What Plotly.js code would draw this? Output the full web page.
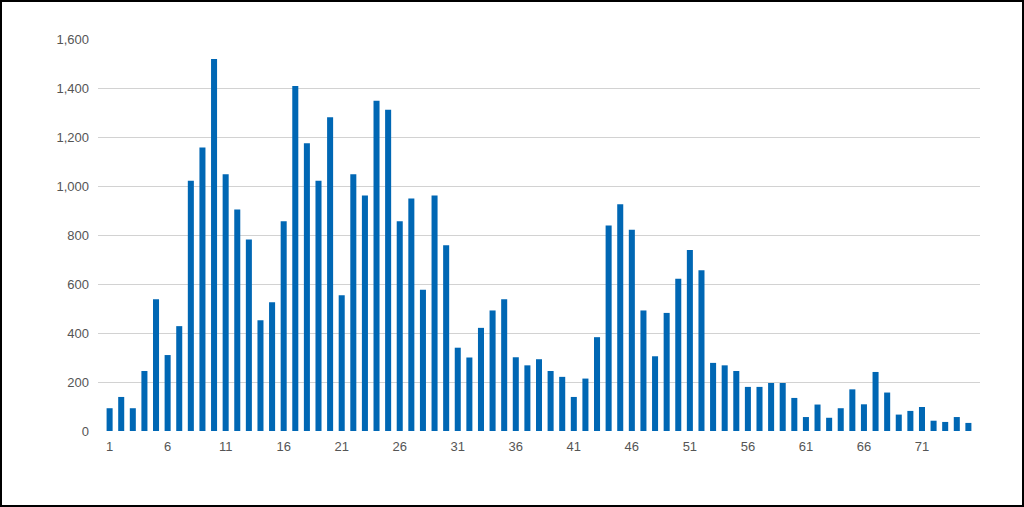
<!DOCTYPE html>
<html>
<head>
<meta charset="utf-8">
<script src="https://cdn.plot.ly/plotly-3.0.1.min.js"></script>
<style>
html,body{margin:0;padding:0;background:#fff;}
#wrap{position:relative;width:1024px;height:507px;}
#chart{width:1024px;height:507px;}
#frame{position:absolute;left:0;top:0;width:1024px;height:507px;box-sizing:border-box;border:2px solid #000;pointer-events:none;}
</style>
</head>
<body>
<div id="wrap"><div id="chart"></div><div id="frame"></div></div>
<script>
const categories = Array.from({length: 75}, (_, i) => i + 1);
const values = [
  93, 139, 93, 245, 538, 310, 428, 1021, 1157, 1518,
  1048, 904, 782, 452, 526, 856, 1408, 1174, 1021, 1281,
  554, 1048, 961, 1348, 1311, 856, 949, 577, 961, 758,
  340, 300, 421, 492, 538, 301, 268, 293, 245, 221,
  139, 214, 383, 839, 926, 821, 492, 305, 482, 621,
  739, 656, 278, 268, 245, 180, 180, 196, 196, 135,
  57, 108, 54, 93, 170, 109, 241, 157, 67, 82,
  98, 42, 37, 57, 33
];
const xTickVals = [1, 6, 11, 16, 21, 26, 31, 36, 41, 46, 51, 56, 61, 66, 71];
const yTickVals = [0, 200, 400, 600, 800, 1000, 1200, 1400, 1600];
const yTickText = ['0', '200', '400', '600', '800', '1,000', '1,200', '1,400', '1,600'];

const trace = {
  type: 'bar',
  x: categories,
  y: values,
  width: 0.52,
  marker: {color: '#0067b4'},
  hoverinfo: 'x+y'
};

const layout = {
  width: 1024,
  height: 507,
  margin: {l: 98, r: 44, t: 39, b: 76},
  paper_bgcolor: '#fff',
  plot_bgcolor: '#fff',
  showlegend: false,
  font: {family: '"Liberation Sans", Arial, sans-serif', size: 13, color: '#555'},
  xaxis: {
    range: [0, 76],
    tickmode: 'array',
    tickvals: xTickVals,
    ticktext: xTickVals.map(String),
    showgrid: false,
    zeroline: false,
    showline: false,
    ticks: '',
    ticklabelstandoff: 6,
    fixedrange: true
  },
  yaxis: {
    range: [0, 1600],
    tickmode: 'array',
    tickvals: yTickVals,
    ticktext: yTickText,
    showgrid: true,
    gridcolor: '#d2d2d2',
    gridwidth: 1,
    zeroline: true,
    zerolinecolor: '#ffffff',
    zerolinewidth: 2,
    showline: false,
    ticks: '',
    ticklabelstandoff: 8,
    fixedrange: true
  }
};

Plotly.newPlot('chart', [trace], layout, {displayModeBar: false, staticPlot: true});
</script>
</body>
</html>
